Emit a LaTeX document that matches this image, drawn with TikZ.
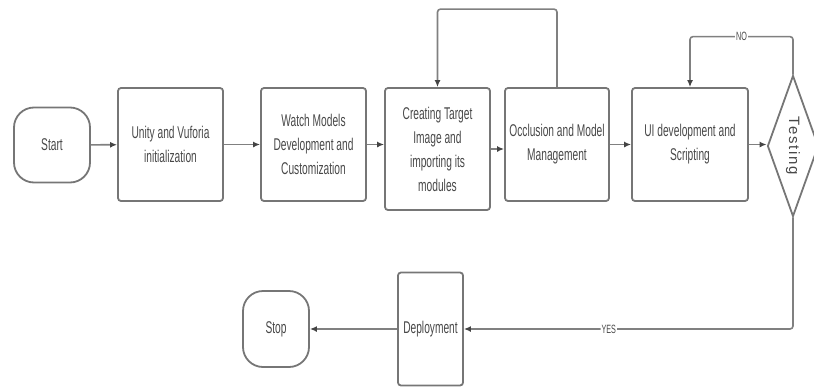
\documentclass[tikz,border=0pt]{standalone}
\usepackage{fontspec}
\setmainfont[FakeStretch=0.6]{Liberation Sans}
\newfontfamily\testfont[LetterSpace=12]{Liberation Sans}
\usetikzlibrary{arrows.meta,shapes.geometric}
\definecolor{boxgray}{HTML}{767676}
\definecolor{linegray}{HTML}{808080}
\definecolor{headgray}{HTML}{444444}
\definecolor{txtgray}{HTML}{484848}

\begin{document}
\begin{tikzpicture}[x=1pt, y=-1pt,
  block/.style={draw=boxgray, line width=1.8pt, rounded corners=3pt, align=center,
    font=\fontsize{17}{24}\selectfont, text=txtgray, inner sep=2pt},
  term/.style={block, rounded corners=20pt},
  flow/.style={draw=linegray, line width=1.6pt, -{Latex[length=7pt, width=6pt, color=headgray]}},
  tag/.style={fill=white, inner sep=1pt, font=\fontsize{12}{12}\selectfont, text=txtgray}]
  \useasboundingbox (0,0) rectangle (814,386);

  % Top row
  \node[term, minimum width=76pt, minimum height=75pt] (start) at (52,145) {Start};
  \node[block, minimum width=105pt, minimum height=113pt] (unity) at (170.5,144.5) {Unity and Vuforia\\initialization};
  \node[block, minimum width=105pt, minimum height=113pt] (watch) at (313.5,144.5) {Watch Models\\Development and\\Customization};
  \node[block, minimum width=105pt, minimum height=122pt] (target) at (437.5,149) {Creating Target\\Image and\\importing its\\modules};
  \node[block, minimum width=104pt, minimum height=113pt] (occl) at (557,144.5) {Occlusion and Model\\Management};
  \node[block, minimum width=116pt, minimum height=113pt] (ui) at (690,144.5) {UI development and\\Scripting};
  \node[diamond, draw=boxgray, line width=1.8pt, minimum width=51pt, minimum height=141pt, inner sep=0pt] (test) at (793,146) {};
  \node[rotate=-90, font=\testfont\fontsize{15}{15}\selectfont, text=txtgray] (testtxt) at (test) {Testing};

  % Bottom row
  \node[block, minimum width=65pt, minimum height=113pt] (deploy) at (430.5,329) {Deployment};
  \node[term, minimum width=66pt, minimum height=76pt] (stop) at (276,329) {Stop};

  % Arrows
  \draw[flow] (start) -- (unity);
  \draw[flow] (unity) -- (watch);
  \draw[flow] (watch.east) -- (watch.east -| target.west);
  \draw[flow] (target.east) -- (target.east -| occl.west);
  \draw[flow] (occl) -- (ui);
  \draw[flow] (ui.east) -- (ui.east -| test.west);
  \draw[flow, rounded corners=3pt] (occl.north) -- ++(0,-78) -| (target.north);
  \draw[flow, rounded corners=3pt] (test.north) -- ++(0,-38) -| node[tag, pos=0.25] {NO} (ui.north);
  \draw[flow, rounded corners=3pt] (test.south) -- (test.south |- deploy) -- node[tag, pos=0.56] {YES} (deploy.east);
  \draw[flow] (deploy) -- (stop);
\end{tikzpicture}
\end{document}
